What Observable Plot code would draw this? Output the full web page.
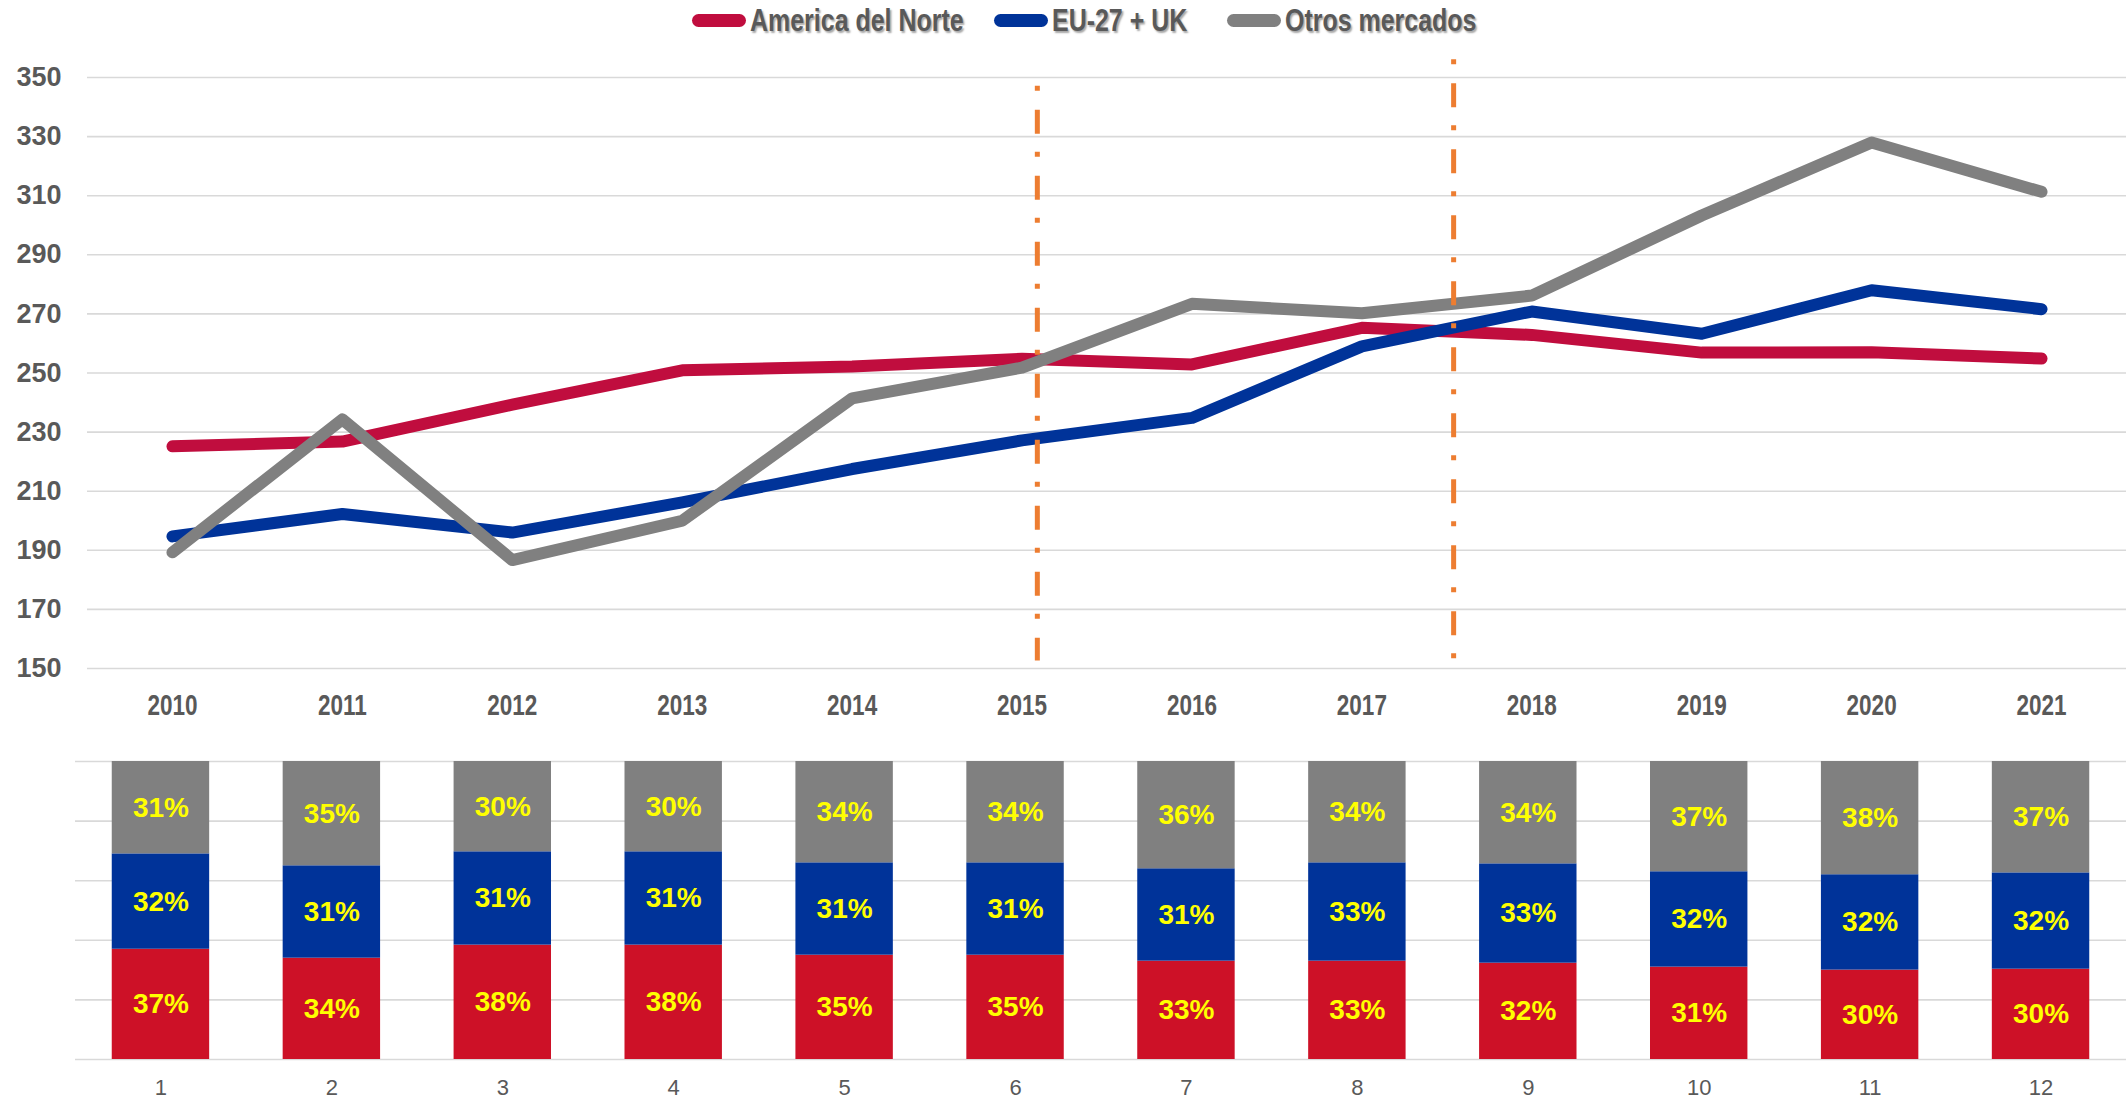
<!DOCTYPE html>
<html><head><meta charset="utf-8">
<script src="https://cdn.jsdelivr.net/npm/d3@7"></script>
<script src="https://cdn.jsdelivr.net/npm/@observablehq/plot@0.6"></script>
<style>
body{margin:0;background:#fff;width:2126px;height:1099px;overflow:hidden;font-family:"Liberation Sans",Arial,sans-serif;}
#legend{position:relative;height:40px;}
.item{position:absolute;top:0;height:40px;display:flex;align-items:center;}
.sw{width:54px;height:13px;border-radius:7px;margin-right:4px;flex:none;}
.lab{display:inline-block;transform:scaleX(0.78);transform-origin:0 50%;font-family:"Liberation Sans",Arial,sans-serif;font-weight:bold;font-size:32px;color:#595959;text-shadow:2px 2px 2px rgba(0,0,0,0.35);white-space:nowrap;}
svg{display:block}
</style></head><body>
<div id="legend"></div><div id="top"></div><div id="bottom"></div>
<script>
const years = [2010,2011,2012,2013,2014,2015,2016,2017,2018,2019,2020,2021];
const series = ["America del Norte","EU-27 + UK","Otros mercados"];
const lineColors = ["#C00D3E","#003399","#808080"];
const barColors = ["#CD1127","#003399","#808080"];
const america = [225.2,226.8,239.3,250.9,252.2,254.8,252.9,265.3,262.9,256.9,257.0,254.9];
const eu      = [194.7,202.3,196.0,206.2,217.5,227.2,234.8,259.0,270.8,263.3,278.0,271.6];
const otros   = [189.3,234.3,186.7,200.0,241.4,251.8,273.4,270.2,276.2,303.3,328.0,311.3];
const yTicks = [150,170,190,210,230,250,270,290,310,330,350];
const barLabels = ["1","2","3","4","5","6","7","8","9","10","11","12"];
const pctAmerica = [37,34,38,38,35,35,33,33,32,31,30,30];
const pctEU      = [32,31,31,31,31,31,31,33,33,32,32,32];
const pctOtros   = [31,35,30,30,34,34,36,34,34,37,38,37];
const pctTicks = [0,0.2,0.4,0.6,0.8,1];
const markerX = [2015.09, 2017.54];
const markerTop = [347, 356];
const markerBottom = [152.5, 152];
const legendLeft = [692, 994, 1227];

// legend
const leg = document.getElementById("legend");
series.forEach((s,i)=>{
  const it = document.createElement("div"); it.className="item"; it.style.left=legendLeft[i]+"px";
  const sw = document.createElement("div"); sw.className="sw"; sw.style.background=lineColors[i];
  const lb = document.createElement("span"); lb.className="lab"; lb.textContent=s;
  it.appendChild(sw); it.appendChild(lb); leg.appendChild(it);
});

function condense(svg, selector, factor){
  svg.querySelectorAll(selector).forEach(t=>{
    const w = t.getComputedTextLength();
    if (w > 0) { t.setAttribute("textLength", (w*factor).toFixed(1)); t.setAttribute("lengthAdjust","spacingAndGlyphs"); }
  });
}

const vals = [america, eu, otros];
const lineData = years.flatMap((yr,i)=>series.map((s,k)=>({year:yr, value:vals[k][i], series:s})));
const markers = markerX.map((x,i)=>({x, top:markerTop[i], bottom:markerBottom[i]}));
const font = "'Liberation Sans', Arial, sans-serif";

const topChart = Plot.plot({
  width:2126, height:690, marginTop:37, marginBottom:62, marginLeft:87, marginRight:0,
  style:{color:"#595959", background:"#fff", fontFamily:font},
  x:{type:"linear", domain:[2009.5,2021.5]},
  y:{domain:[150,350]},
  color:{domain:series, range:lineColors},
  marks:[
    Plot.gridY(yTicks, {stroke:"#d9d9d9", strokeWidth:1.6, strokeOpacity:1}),
    Plot.axisY(yTicks, {tickSize:0, tickPadding:26, fontSize:27, fontWeight:"bold", fill:"#595959", label:null}),
    Plot.axisX(years, {tickSize:0, tickPadding:25, fontSize:30, fontWeight:"bold", fill:"#595959", tickFormat:d=>String(d), label:null}),
    Plot.line(lineData, {x:"year", y:"value", z:"series", stroke:"series", strokeWidth:12, strokeLinecap:"round", strokeLinejoin:"round"}),
    Plot.ruleX(markers, {x:"x", y1:"top", y2:"bottom", stroke:"#ED7D31", strokeWidth:5, strokeDasharray:"5,19,24,18"})
  ]
});
document.getElementById("top").appendChild(topChart);
condense(topChart, "g[aria-label='x-axis tick label'] text", 0.75);

const pcts = [pctAmerica, pctEU, pctOtros];
const barData = barLabels.flatMap((b,i)=>series.map((s,k)=>({idx:b, pct:pcts[k][i], series:s})));
const botChart = Plot.plot({
  width:2126, height:369, marginTop:31, marginBottom:40, marginLeft:75, marginRight:0,
  style:{color:"#595959", background:"#fff", fontFamily:font},
  x:{type:"band", domain:barLabels, paddingInner:0.43, paddingOuter:0.215, round:false},
  y:{domain:[0,1], axis:null},
  color:{domain:series, range:barColors},
  marks:[
    Plot.gridY(pctTicks, {stroke:"#d9d9d9", strokeWidth:1.6, strokeOpacity:1}),
    Plot.barY(barData, Plot.stackY({offset:"normalize", x:"idx", y:"pct", z:"series", fill:"series"})),
    Plot.text(barData, Plot.stackY({offset:"normalize", x:"idx", y:"pct", z:"series", text:d=>d.pct+"%", fill:"#FFFF00", fontSize:28, fontWeight:"bold", ariaLabel:"pctlabels"})),
    Plot.axisX({tickSize:0, tickPadding:20, fontSize:22, fill:"#595959", label:null})
  ]
});
document.getElementById("bottom").appendChild(botChart);
condense(botChart, "g[aria-label='pctlabels'] text", 0.75);
</script></body></html>
